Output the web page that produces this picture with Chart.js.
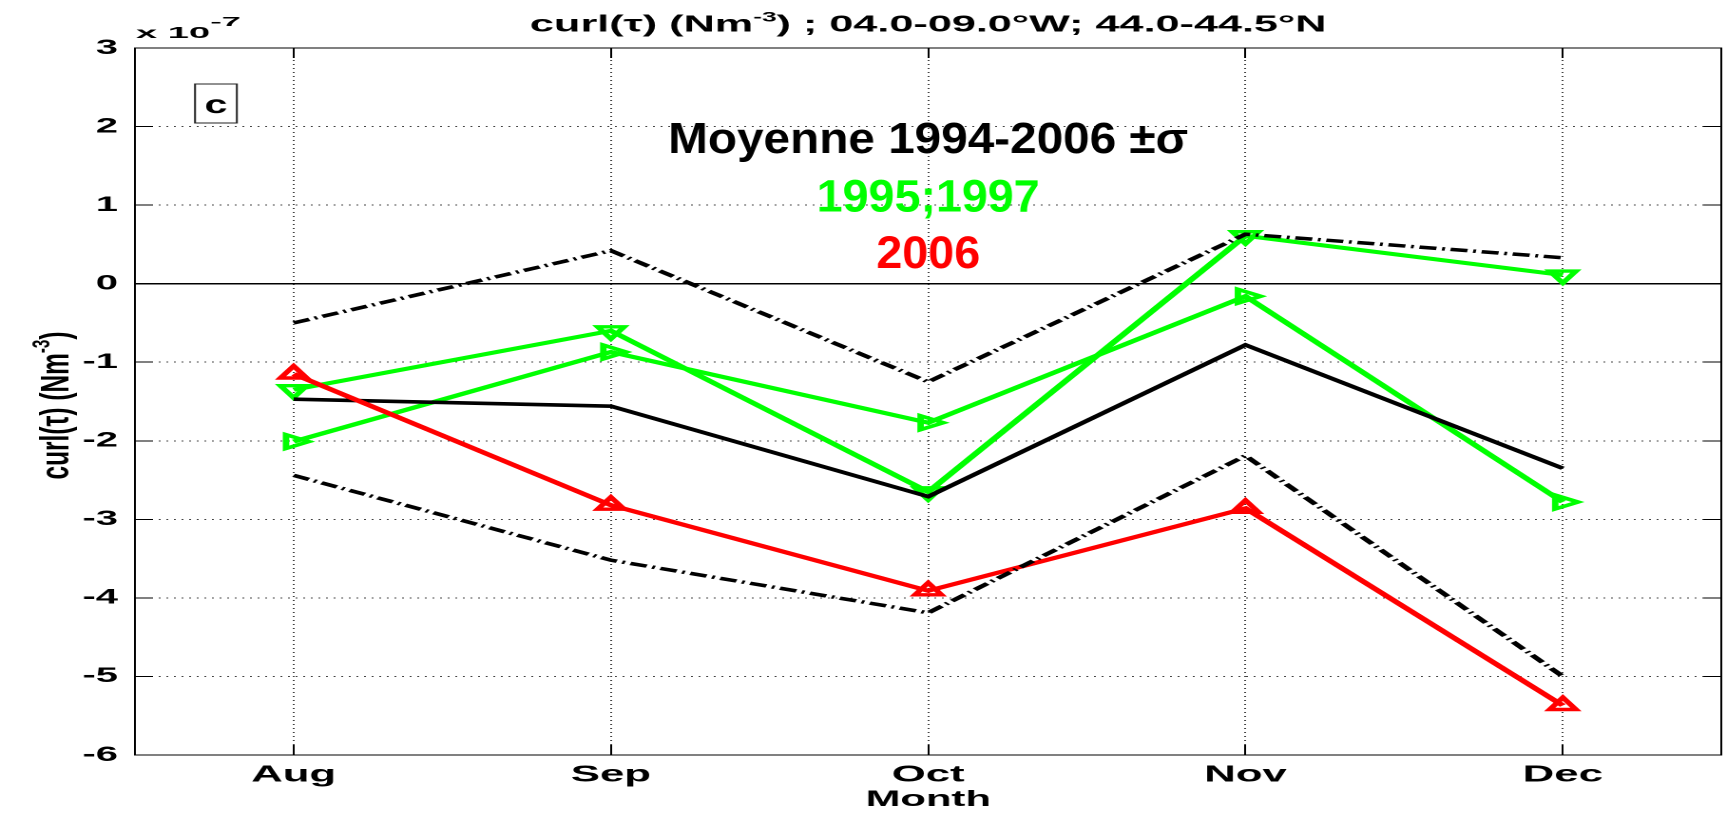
<!DOCTYPE html>
<html>
<head>
<meta charset="utf-8">
<title>curl(τ) Aug-Dec</title>
<script src="https://cdn.jsdelivr.net/npm/chart.js@4.4.1/dist/chart.umd.min.js"></script>
<style>
  html, body { margin: 0; padding: 0; background: #fff; overflow: hidden; }
  #wrap { width: 1726px; height: 813px; overflow: hidden; }
  /* the original figure is stretched sideways, so draw narrow and stretch */
  #chart { transform-origin: 0 0; transform: scaleX(1.9009); }
</style>
</head>
<body>
<div id="wrap"><canvas id="chart" width="917" height="813"></canvas></div>
<script>
// values in units of 1e-7 N m^-3
const months = ["Aug", "Sep", "Oct", "Nov", "Dec"];
const yTicks = [3, 2, 1, 0, -1, -2, -3, -4, -5, -6];

const meanCurl = [-1.47, -1.56, -2.71, -0.78, -2.35];
const meanPlusSigma = [-0.50, 0.42, -1.25, 0.63, 0.33];
const meanMinusSigma = [-2.44, -3.52, -4.19, -2.19, -5.00];
const curl1995 = [-1.35, -0.60, -2.65, 0.61, 0.11];
const curl1997 = [-2.01, -0.87, -1.77, -0.16, -2.78];
const curl2006 = [-1.15, -2.82, -3.91, -2.86, -5.37];

const FONT = "'Liberation Sans', Arial, sans-serif";
const GREEN = "#00ff00";
const RED = "#ff0000";

function isZero(c) {
    return c.tick && c.tick.value === 0;
}

function lineSet(label, data, color, extra) {
    return Object.assign({
        label: label,
        data: data,
        borderColor: color,
        backgroundColor: color,
        borderWidth: 4,
        pointRadius: 0,
        tension: 0,
        fill: false
    }, extra);
}

function markers(rotation) {
    return {
        pointStyle: "triangle",
        pointRotation: rotation,
        pointRadius: 8,
        pointBorderWidth: 3.4,
        pointBackgroundColor: "rgba(0,0,0,0)"
    };
}

// text squeezed or stretched to the width it has in the picture
function runs(ctx, parts, x, y, width) {
    let total = 0;
    parts.forEach(function (p) {
        ctx.font = p.font;
        p.w = ctx.measureText(p.text).width;
        total += p.w;
    });
    ctx.save();
    ctx.translate(x - width / 2, y);
    ctx.scale(width / total, 1);
    ctx.textAlign = "left";
    ctx.textBaseline = "alphabetic";
    let cx = 0;
    parts.forEach(function (p) {
        ctx.font = p.font;
        ctx.fillStyle = p.color || "#000";
        ctx.fillText(p.text, cx, p.dy || 0);
        cx += p.w;
    });
    ctx.restore();
}

const annotations = {
    id: "annotations",
    afterDraw: function (chart) {
        const ctx = chart.ctx;
        const mid = (chart.chartArea.left + chart.chartArea.right) / 2;

        runs(ctx, [
            { text: "curl(τ) (Nm", font: "bold 23px " + FONT },
            { text: "-3", font: "bold 14px " + FONT, dy: -10 },
            { text: ") ; 04.0-09.0°W; 44.0-44.5°N", font: "bold 23px " + FONT }
        ], mid, 31.5, 419);

        runs(ctx, [
            { text: "x 10", font: "bold 16px " + FONT }
        ], 91, 38, 39);
        runs(ctx, [
            { text: "-7", font: "bold 13px " + FONT }
        ], 118.6, 26, 16);

        ctx.save();
        ctx.fillStyle = "#fff";
        ctx.fillRect(102.6, 84, 22, 39);
        ctx.strokeStyle = "#222";
        ctx.lineWidth = 1;
        ctx.strokeRect(102.6, 84, 22, 39);
        ctx.restore();
        runs(ctx, [{ text: "c", font: "bold 26px " + FONT }], 113.6, 113, 12);

        runs(ctx, [{ text: "Moyenne 1994-2006 ±σ", font: "bold 44px " + FONT }], mid, 153, 273.6);
        runs(ctx, [{ text: "1995;1997", font: "bold 45px " + FONT, color: GREEN }], mid, 211.5, 117.3);
        runs(ctx, [{ text: "2006", font: "bold 45px " + FONT, color: RED }], mid, 268, 54.7);

        // y axis title, read bottom to top
        ctx.save();
        ctx.translate(36, (chart.chartArea.top + chart.chartArea.bottom) / 2 + 4);
        ctx.rotate(-Math.PI / 2);
        runs(ctx, [
            { text: "curl(τ) (Nm", font: "bold 21px " + FONT },
            { text: "-3", font: "bold 13px " + FONT, dy: -10 },
            { text: ")", font: "bold 21px " + FONT }
        ], 0, 0, 148);
        ctx.restore();
    }
};

function yTickList(scale) {
    scale.ticks = yTicks.map(function (v) { return { value: v }; });
}

const dotted = function (c) { return isZero(c) ? [] : [1, 3]; };

new Chart(document.getElementById("chart"), {
    type: "line",
    data: {
        labels: months,
        datasets: [
            lineSet("moyenne + σ", meanPlusSigma, "#000", { borderWidth: 3.5, borderDash: [9, 3, 1.5, 3] }),
            lineSet("moyenne - σ", meanMinusSigma, "#000", { borderWidth: 3.5, borderDash: [9, 3, 1.5, 3] }),
            lineSet("2006", curl2006, RED, markers(0)),
            lineSet("moyenne 1994-2006", meanCurl, "#000", { borderWidth: 3.6 }),
            lineSet("1995", curl1995, GREEN, markers(180)),
            lineSet("1997", curl1997, GREEN, markers(90))
        ]
    },
    plugins: [annotations],
    options: {
        responsive: false,
        devicePixelRatio: 2,
        animation: false,
        events: [],
        layout: { padding: { left: 0, right: 0, top: 48, bottom: 0 } },
        plugins: {
            legend: { display: false },
            tooltip: { enabled: false }
        },
        scales: {
            x: {
                type: "category",
                position: "bottom",
                offset: true,
                afterFit: function (s) { s.height = 58; },
                grid: {
                    offset: false,
                    color: "#444",
                    lineWidth: 1,
                    tickLength: -10,
                    tickColor: "#000",
                    tickWidth: 1,
                    tickBorderDash: []
                },
                border: { display: true, color: "#000", width: 1, dash: [1, 3] },
                ticks: {
                    color: "#000",
                    font: { family: FONT, size: 23, weight: "bold" },
                    padding: 16.5,
                    maxRotation: 0,
                    autoSkip: false
                },
                title: {
                    display: true,
                    text: "Month",
                    color: "#000",
                    font: { family: FONT, size: 22, weight: "bold" },
                    padding: { top: 0, bottom: 0 }
                }
            },
            xTop: {
                type: "category",
                position: "top",
                offset: true,
                afterFit: function (s) { s.height = 0; },
                grid: {
                    offset: false,
                    drawOnChartArea: false,
                    tickLength: -10,
                    tickColor: "#000",
                    tickWidth: 1
                },
                border: { display: true, color: "#000", width: 1 },
                ticks: { display: false }
            },
            y: {
                type: "linear",
                position: "left",
                min: -6,
                max: 3,
                afterBuildTicks: yTickList,
                afterFit: function (s) { s.width = 71; },
                grid: {
                    color: function (c) { return isZero(c) ? "#000" : "#444"; },
                    lineWidth: function (c) { return isZero(c) ? 1.5 : 1; },
                    tickLength: -9.5,
                    tickColor: "#000",
                    tickWidth: 1,
                    tickBorderDash: []
                },
                border: { display: true, color: "#000", width: 1, dash: dotted },
                ticks: {
                    color: "#000",
                    font: { family: FONT, size: 21, weight: "bold" },
                    padding: 18.4,
                    callback: function (v) { return String(v); }
                }
            },
            yRight: {
                type: "linear",
                position: "right",
                min: -6,
                max: 3,
                afterBuildTicks: yTickList,
                afterFit: function (s) { s.width = 0; },
                grid: {
                    drawOnChartArea: false,
                    tickLength: -9.5,
                    tickColor: "#000",
                    tickWidth: 1
                },
                border: { display: true, color: "#000", width: 1 },
                ticks: { display: false }
            }
        }
    }
});
</script>
</body>
</html>
